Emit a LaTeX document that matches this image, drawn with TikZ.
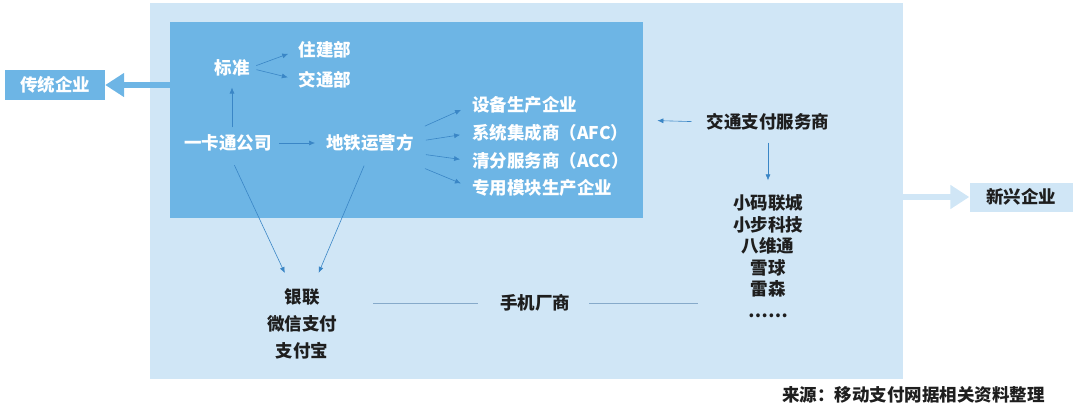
\documentclass[tikz,border=0pt]{standalone}
\usepackage{fontspec}
\setmainfont{Noto Sans CJK SC}
\usetikzlibrary{arrows.meta, positioning}
\definecolor{OuterBlue}{HTML}{D0E6F6}
\definecolor{InnerBlue}{HTML}{6DB5E5}
\definecolor{ArrowBlue}{HTML}{3A86C6}
\definecolor{LineGray}{HTML}{86AACA}
\definecolor{TextDark}{HTML}{1E1E1E}

\begin{document}
\begin{tikzpicture}[x=1pt, y=-1pt,
  wtext/.style={text=white, font=\fontsize{17.5}{21}\selectfont\bfseries, inner sep=0pt},
  btext/.style={text=TextDark, font=\fontsize{17.5}{21}\selectfont\bfseries, inner sep=0pt, align=center},
  line/.style={-{Latex[length=6pt,width=5pt]}, semithick, color=ArrowBlue, shorten <=7pt, shorten >=11pt},
  plain/.style={semithick, color=LineGray},
  bigarrow/.style={-{Triangle[length=19pt,width=23pt]}, line width=6pt}
]
\useasboundingbox (0,0) rectangle (1080,410);

% frames
\node[fill=OuterBlue, minimum width=753pt, minimum height=376pt, anchor=north west, inner sep=0pt] (outer) at (150,3) {};
\node[fill=InnerBlue, minimum width=473pt, minimum height=196pt, anchor=north west, inner sep=0pt] (inner) at (170,22) {};

% side boxes
\node[wtext, fill=InnerBlue, minimum width=100pt, minimum height=30pt] (ct) at (55,85)  {传统企业};
\node[btext, fill=OuterBlue, minimum width=103pt, minimum height=29pt] (xx) at (1021,197) {新兴企业};
\draw[bigarrow, InnerBlue] (inner.west |- ct.east) -- (ct.east);
\draw[bigarrow, OuterBlue] (outer.east |- xx.west) -- (xx.west);

% inside the dark box
\node[wtext] (bz)  at (232,68)  {标准};
\node[wtext] (zj)  at (325,50)  {住建部};
\node[wtext] (jtb) at (325,80)  {交通部};
\node[wtext] (ykt) at (228,143) {一卡通公司};
\node[wtext] (dt)  at (370,143) {地铁运营方};
\node[wtext, anchor=west] (sb) at (472,105) {设备生产企业};
\node[wtext, anchor=west] (xt) at (472,133) {系统集成商（AFC）};
\node[wtext, anchor=west] (qf) at (472,161) {清分服务商（ACC）};
\node[wtext, anchor=west] (zy) at (472,188) {专用模块生产企业};

\draw[line] (bz.east) -- (zj.west);
\draw[line] (bz.east) -- (jtb.west);
\draw[line] (ykt.north -| bz.south) -- (bz.south);
\draw[line] (ykt.east) -- (dt.west);
\draw[line, shorten <=12pt, shorten >=12pt] ([yshift=12pt]dt.east)  -- (sb.west);
\draw[line, shorten <=12pt, shorten >=12pt] ([yshift=1pt]dt.east)   -- (xt.west);
\draw[line, shorten <=12pt, shorten >=12pt] ([yshift=-10pt]dt.east) -- (qf.west);
\draw[line, shorten <=12pt, shorten >=12pt] ([yshift=-21pt]dt.east) -- (zy.west);

% light area
\node[btext] (jt) at (768,122) {交通支付服务商};
\node[btext, font=\fontsize{17.5}{21.5}\selectfont\bfseries] (xm) at (768,256)
  {小码联城\\小步科技\\八维通\\雪球\\雷森\\……};
\node[btext, font=\fontsize{17.5}{27}\selectfont\bfseries] (yl) at (302,324)
  {银联\\微信支付\\支付宝};
\node[btext] (sj) at (535,303) {手机厂商};

\draw[line, shorten <=15pt, shorten >=14pt] (jt.west) -- (inner.east);
\draw[line, shorten <=12pt, shorten >=14pt] (jt.south) -- (xm.north);
\draw[line, shorten <=15pt, shorten >=17pt] (ykt.south) -- ([xshift=-10pt]yl.north);
\draw[line, shorten <=15pt, shorten >=17pt] (dt.south)  -- ([xshift=10pt]yl.north);

\coordinate (sjl) at (373,303);
\coordinate (sjr) at (698,303);
\draw[plain, shorten <=22pt] (sj.west) -- (sjl);
\draw[plain, shorten <=19pt] (sj.east) -- (sjr);

% source
\node[btext, anchor=east] (src) at (1045,395) {来源：移动支付网据相关资料整理};
\end{tikzpicture}
\end{document}
